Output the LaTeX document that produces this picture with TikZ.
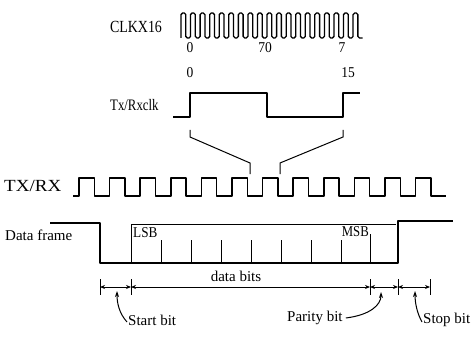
\documentclass[tikz,border=0pt]{standalone}
\usepackage{fontspec}
\usepackage{graphicx}
\setmainfont{Liberation Serif}
\usetikzlibrary{arrows.meta}
\tikzset{
  wave/.style={line width=1.5pt, line join=round},
  clkwave/.style={line width=1.3pt, rounded corners=1.6pt},
  thin/.style={line width=1pt},
  lbl/.style={inner sep=0pt, font=\fontsize{15}{18}\selectfont},
  dim/.style={line width=1pt, {Stealth[length=5pt,width=4pt]}-{Stealth[length=5pt,width=4pt]}},
  callout/.style={line width=1pt, -{Stealth[length=6pt,width=4pt]}}
}
\begin{document}
\begin{tikzpicture}[x=1pt,y=-1pt]
\useasboundingbox (0,0) rectangle (473,339);
% labels
\node[lbl, font=\fontsize{17}{20}\selectfont] (clk) at (136,27) {\scalebox{0.82}[1]{CLKX16}};
\node[lbl] (c0) at (190,48) {\scalebox{0.9}[1]{0}};
\node[lbl] (c70) at (265,48) {\scalebox{0.9}[1]{70}};
\node[lbl] (c7) at (342,48) {\scalebox{0.9}[1]{7}};
\node[lbl] (t0) at (190,73) {\scalebox{0.9}[1]{0}};
\node[lbl] (t15) at (348,73) {\scalebox{0.9}[1]{15}};
\node[lbl, anchor=west, font=\fontsize{16}{19}\selectfont] (txclk) at (110,105) {\scalebox{0.8}[1]{Tx/Rxclk}};
\node[lbl, anchor=west, font=\fontsize{17}{20}\selectfont] (txrx) at (4,186) {\scalebox{1.12}[1]{TX/RX}};
\node[lbl, anchor=west] (df) at (5,235) {Data frame};
\node[lbl, anchor=west] (lsb) at (133,233) {\scalebox{0.88}[1]{LSB}};
\node[lbl, anchor=east] (msb) at (369,232) {\scalebox{0.85}[1]{MSB}};
\node[lbl] (db) at (236,276) {data bits};
\node[lbl, anchor=west] (sb) at (128,320) {Start bit};
\node[lbl, anchor=west] (pb) at (287,318) {Parity bit};
\node[lbl, anchor=west] (stb) at (423,320) {Stop bit};
% CLKX16 waveform
\draw[clkwave] (181,38) \foreach \k in {0,...,18}{ -- ++(0,-25) -- ++(4.78,0) -- ++(0,25) -- ++(4.78,0) };
% Tx/Rxclk waveform
\draw[wave] (173,117) -- (190,117) -- (190,93) -- (267,93) -- (267,117) -- (343,117) -- (343,93) -- (360,93);
% expansion lines
\coordinate (l1) at (190,130); \coordinate (l2) at (190,137);
\coordinate (l3) at (250,163); \coordinate (l4) at (250,174);
\coordinate (r1) at (343,130); \coordinate (r2) at (343,137);
\coordinate (r3) at (280,163); \coordinate (r4) at (280,174);
\draw[thin] (l1) -- (l2) -- (l3) -- (l4);
\draw[thin] (r1) -- (r2) -- (r3) -- (r4);
% TX/RX waveform
\draw[wave] (73,196) -- (79,196) \foreach \k in {0,...,11}{ -- ++(0,-18) -- ++(15.3,0) -- ++(0,18) -- ++(15.3,0) };
% Data frame
\draw[wave] (50,223) -- (100,223) -- (100,263) -- (398,263) -- (398,221) -- (453,221);
\draw[thin] (131,263) -- (131,224) -- (396,224);
\foreach \x in {161,191,221,251,281,311,341} \draw[thin] (\x,240) -- (\x,263);
\draw[thin] (370,234) -- (370,263);
% bit-time brackets
\foreach \x in {100,131,370,398,430} \draw[thin] (\x,279) -- (\x,295);
\draw[dim] (100,287) -- (131,287);
\draw[dim] (131,287) -- (370,287);
\draw[dim] (370,287) -- (398,287);
\draw[dim] (398,287) -- (430,287);
% callouts
\draw[callout] ([xshift=-1pt,yshift=-2pt]sb.west) .. controls (119,313) and (117,303) .. (117,291);
\draw[callout] ([xshift=3pt]pb.east) .. controls (370,315) and (381,305) .. (381,292);
\draw[callout] ([xshift=-1pt,yshift=-2pt]stb.west) .. controls (417,313) and (415,303) .. (415,291);
\end{tikzpicture}
\end{document}
